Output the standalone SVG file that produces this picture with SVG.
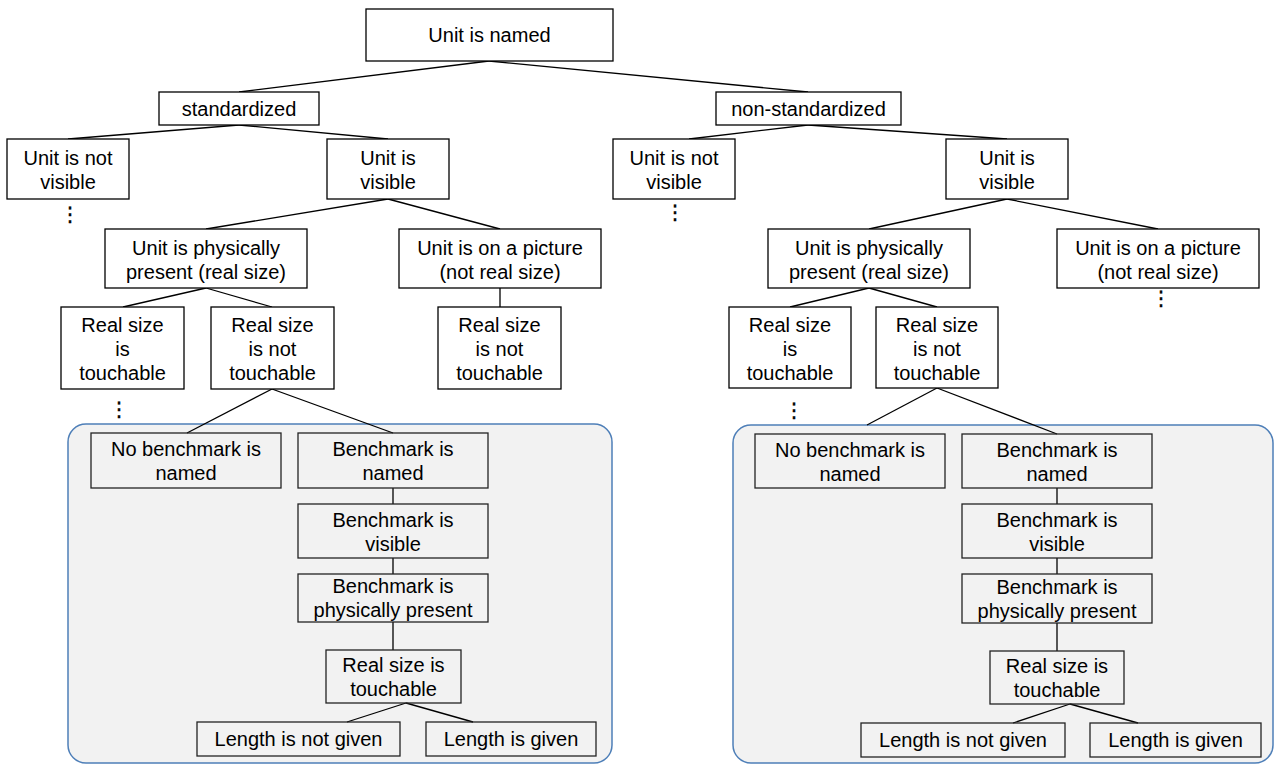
<svg xmlns="http://www.w3.org/2000/svg" width="1274" height="764" viewBox="0 0 1274 764">
<style>
.box{fill:#fff;stroke:#000;stroke-width:1.3}
.ibox{fill:none;stroke:#222;stroke-width:1.3}
.grp{fill:#f2f2f2;stroke:#4e7fb8;stroke-width:1.5}
.t{font-family:"Liberation Sans",Arial,sans-serif;font-size:20px;text-anchor:middle;fill:#000}
.dots{font-family:"DejaVu Sans",sans-serif;font-size:20px;text-anchor:middle;fill:#000;stroke:#000;stroke-width:0.4}
#connectors line{stroke:#000;stroke-width:1.3}
</style>
<rect width="1274" height="764" fill="#fff"/>
<g id="group-left"><rect class="grp" x="68" y="424" width="544" height="339" rx="18"/></g>
<g id="group-right"><rect class="grp" x="733" y="425" width="540" height="338" rx="18"/></g>
<g id="connectors">
<line x1="489" y1="61" x2="239" y2="92"/>
<line x1="489" y1="61" x2="808" y2="92"/>
<line x1="239" y1="125" x2="68" y2="139"/>
<line x1="239" y1="125" x2="388" y2="139"/>
<line x1="808" y1="125" x2="689" y2="139"/>
<line x1="808" y1="125" x2="1007" y2="139"/>
<line x1="388" y1="199" x2="206" y2="229"/>
<line x1="388" y1="199" x2="500" y2="229"/>
<line x1="1007" y1="199" x2="869" y2="229"/>
<line x1="1007" y1="199" x2="1158" y2="229"/>
<line x1="206" y1="288" x2="123" y2="307"/>
<line x1="206" y1="288" x2="272" y2="307"/>
<line x1="500" y1="288" x2="500" y2="307"/>
<line x1="869" y1="288" x2="790" y2="307"/>
<line x1="869" y1="288" x2="937" y2="307"/>
<line x1="272" y1="389" x2="187" y2="433"/>
<line x1="272" y1="389" x2="393" y2="433"/>
<line x1="937" y1="388" x2="867" y2="425"/>
<line x1="937" y1="388" x2="1057" y2="434"/>
<line x1="393" y1="488" x2="393" y2="504"/>
<line x1="393" y1="558" x2="393" y2="574"/>
<line x1="393" y1="622" x2="393" y2="650"/>
<line x1="406" y1="703" x2="347" y2="722"/>
<line x1="406" y1="703" x2="473" y2="722"/>
<line x1="1057" y1="488" x2="1057" y2="504"/>
<line x1="1057" y1="558" x2="1057" y2="574"/>
<line x1="1057" y1="623" x2="1057" y2="651"/>
<line x1="1070" y1="704" x2="1013" y2="723"/>
<line x1="1070" y1="704" x2="1138" y2="723"/>
</g>
<g id="n-unit-named"><rect class="box" x="366" y="9" width="247" height="52"/><text class="t" x="489.5" y="42">Unit is named</text></g>
<g id="n-standardized"><rect class="box" x="159" y="92" width="160" height="33"/><text class="t" x="239" y="116">standardized</text></g>
<g id="n-nonstandardized"><rect class="box" x="716" y="92" width="185" height="33"/><text class="t" x="808.5" y="116">non-standardized</text></g>
<g id="n-l-notvisible"><rect class="box" x="7" y="139" width="122" height="60"/><text class="t" x="68" y="165">Unit is not</text><text class="t" x="68" y="189">visible</text></g>
<g id="n-l-visible"><rect class="box" x="327" y="139" width="122" height="60"/><text class="t" x="388" y="165">Unit is</text><text class="t" x="388" y="189">visible</text></g>
<g id="n-r-notvisible"><rect class="box" x="613" y="139" width="122" height="60"/><text class="t" x="674" y="165">Unit is not</text><text class="t" x="674" y="189">visible</text></g>
<g id="n-r-visible"><rect class="box" x="946" y="139" width="122" height="60"/><text class="t" x="1007" y="165">Unit is</text><text class="t" x="1007" y="189">visible</text></g>
<g id="n-l-physical"><rect class="box" x="105" y="229" width="202" height="59"/><text class="t" x="206" y="254.5">Unit is physically</text><text class="t" x="206" y="278.5">present (real size)</text></g>
<g id="n-l-picture"><rect class="box" x="399" y="229" width="202" height="59"/><text class="t" x="500" y="254.5">Unit is on a picture</text><text class="t" x="500" y="278.5">(not real size)</text></g>
<g id="n-r-physical"><rect class="box" x="768" y="229" width="202" height="59"/><text class="t" x="869" y="254.5">Unit is physically</text><text class="t" x="869" y="278.5">present (real size)</text></g>
<g id="n-r-picture"><rect class="box" x="1057" y="229" width="202" height="59"/><text class="t" x="1158" y="254.5">Unit is on a picture</text><text class="t" x="1158" y="278.5">(not real size)</text></g>
<g id="n-l-touch"><rect class="box" x="61" y="307" width="123" height="82"/><text class="t" x="122.5" y="332">Real size</text><text class="t" x="122.5" y="356">is</text><text class="t" x="122.5" y="380">touchable</text></g>
<g id="n-l-nottouch"><rect class="box" x="211" y="307" width="123" height="82"/><text class="t" x="272.5" y="332">Real size</text><text class="t" x="272.5" y="356">is not</text><text class="t" x="272.5" y="380">touchable</text></g>
<g id="n-l-pic-nottouch"><rect class="box" x="438" y="307" width="123" height="82"/><text class="t" x="499.5" y="332">Real size</text><text class="t" x="499.5" y="356">is not</text><text class="t" x="499.5" y="380">touchable</text></g>
<g id="n-r-touch"><rect class="box" x="729" y="307" width="122" height="81"/><text class="t" x="790" y="332">Real size</text><text class="t" x="790" y="356">is</text><text class="t" x="790" y="380">touchable</text></g>
<g id="n-r-nottouch"><rect class="box" x="876" y="307" width="122" height="81"/><text class="t" x="937" y="332">Real size</text><text class="t" x="937" y="356">is not</text><text class="t" x="937" y="380">touchable</text></g>
<g id="dots-1"><text class="dots" x="70" y="221">⋮</text></g>
<g id="dots-2"><text class="dots" x="675" y="219">⋮</text></g>
<g id="dots-3"><text class="dots" x="119" y="416">⋮</text></g>
<g id="dots-4"><text class="dots" x="794" y="417">⋮</text></g>
<g id="dots-5"><text class="dots" x="1161" y="305">⋮</text></g>
<g id="n-l-nobench"><rect class="ibox" x="91" y="433" width="190" height="55"/><text class="t" x="186" y="456">No benchmark is</text><text class="t" x="186" y="480">named</text></g>
<g id="n-l-benchnamed"><rect class="ibox" x="298" y="433" width="190" height="55"/><text class="t" x="393" y="456">Benchmark is</text><text class="t" x="393" y="480">named</text></g>
<g id="n-l-benchvisible"><rect class="ibox" x="298" y="504" width="190" height="54"/><text class="t" x="393" y="527">Benchmark is</text><text class="t" x="393" y="551">visible</text></g>
<g id="n-l-benchphys"><rect class="ibox" x="298" y="574" width="190" height="48"/><text class="t" x="393" y="593">Benchmark is</text><text class="t" x="393" y="617">physically present</text></g>
<g id="n-l-benchtouch"><rect class="ibox" x="326" y="650" width="135" height="53"/><text class="t" x="393.5" y="672">Real size is</text><text class="t" x="393.5" y="696">touchable</text></g>
<g id="n-l-lennot"><rect class="ibox" x="197" y="722" width="203" height="34"/><text class="t" x="298.5" y="746">Length is not given</text></g>
<g id="n-l-len"><rect class="ibox" x="426" y="722" width="170" height="34"/><text class="t" x="511" y="746">Length is given</text></g>
<g id="n-r-nobench"><rect class="ibox" x="755" y="434" width="190" height="54"/><text class="t" x="850" y="457">No benchmark is</text><text class="t" x="850" y="481">named</text></g>
<g id="n-r-benchnamed"><rect class="ibox" x="962" y="434" width="190" height="54"/><text class="t" x="1057" y="457">Benchmark is</text><text class="t" x="1057" y="481">named</text></g>
<g id="n-r-benchvisible"><rect class="ibox" x="962" y="504" width="190" height="54"/><text class="t" x="1057" y="527">Benchmark is</text><text class="t" x="1057" y="551">visible</text></g>
<g id="n-r-benchphys"><rect class="ibox" x="962" y="574" width="190" height="49"/><text class="t" x="1057" y="594">Benchmark is</text><text class="t" x="1057" y="618">physically present</text></g>
<g id="n-r-benchtouch"><rect class="ibox" x="990" y="651" width="134" height="53"/><text class="t" x="1057" y="673">Real size is</text><text class="t" x="1057" y="697">touchable</text></g>
<g id="n-r-lennot"><rect class="ibox" x="861" y="723" width="204" height="34"/><text class="t" x="963" y="747">Length is not given</text></g>
<g id="n-r-len"><rect class="ibox" x="1090" y="723" width="171" height="34"/><text class="t" x="1175.5" y="747">Length is given</text></g>
</svg>
